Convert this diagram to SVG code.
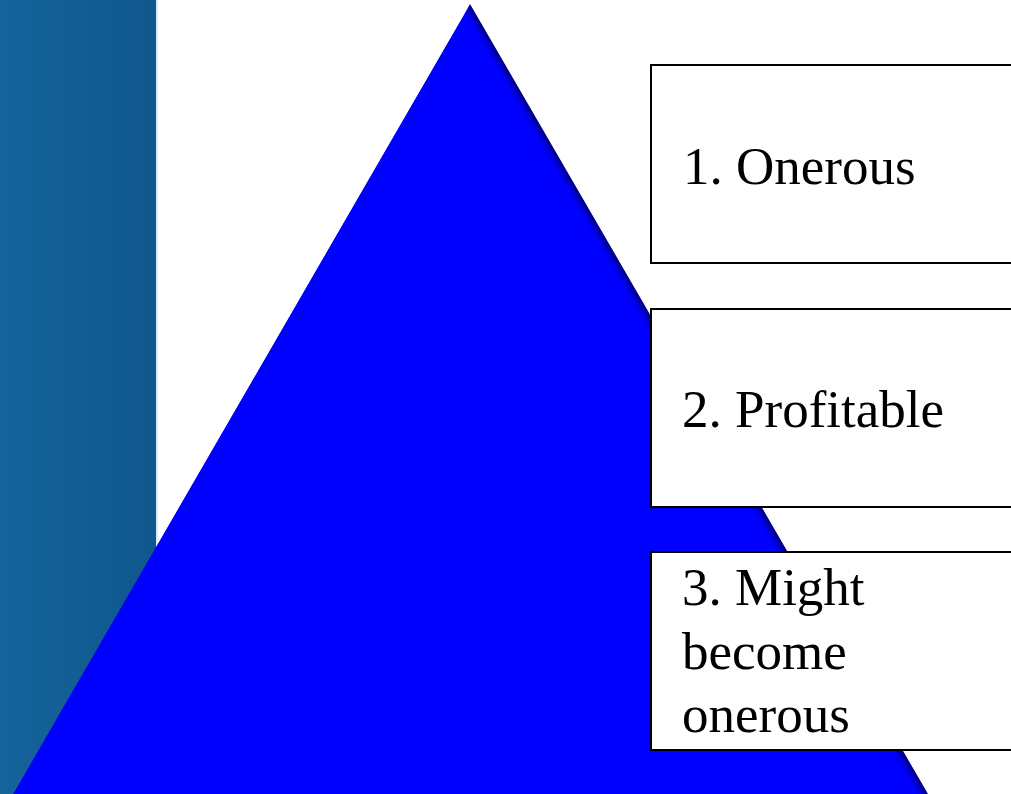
<svg xmlns="http://www.w3.org/2000/svg" width="1011" height="794" viewBox="0 0 1011 794">
<style>
.box{fill:#ffffff;stroke:#000000;stroke-width:2}
.lbl{font-family:"Liberation Serif","Times New Roman",serif;font-size:53px;fill:#000000}
</style>
<defs>
<linearGradient id="panel" x1="0" y1="0" x2="1" y2="0">
<stop offset="0" stop-color="#15649c"/>
<stop offset="0.6" stop-color="#125c93"/>
<stop offset="1" stop-color="#0f578c"/>
</linearGradient>
<clipPath id="triClip">
<polygon points="470,4 928,794 13,794"/>
</clipPath>
<filter id="blur" x="-20%" y="-20%" width="140%" height="140%">
<feGaussianBlur stdDeviation="3"/>
</filter>
</defs>
<rect width="1011" height="794" fill="#ffffff"/>
<g id="panel-bg">
<rect x="0" y="0" width="156" height="794" fill="url(#panel)"/>
<rect x="156" y="0" width="2" height="794" fill="#d6ebf7"/>
</g>
<g id="pyramid">
<g clip-path="url(#triClip)">
<polygon points="470,4 928,794 13,794" fill="#0000ff"/>
<line x1="470" y1="2" x2="930" y2="796" stroke="#000050" stroke-width="9" filter="url(#blur)" opacity="0.85"/>
<line x1="0" y1="795" x2="1011" y2="795" stroke="#000060" stroke-width="12" filter="url(#blur)" opacity="0.9"/>
</g>
</g>
<g id="node1">
<rect class="box" x="651" y="65" width="380" height="198"/>
<text class="lbl" x="683" y="184">1. Onerous</text>
</g>
<g id="node2">
<rect class="box" x="651" y="309" width="380" height="198"/>
<text class="lbl" x="682" y="427">2. Profitable</text>
</g>
<g id="node3">
<rect class="box" x="651" y="552" width="380" height="198"/>
<text class="lbl" x="682" y="605">3. Might</text>
<text class="lbl" x="682" y="669">become</text>
<text class="lbl" x="682" y="732">onerous</text>
</g>
<g id="connectors"></g>
</svg>
